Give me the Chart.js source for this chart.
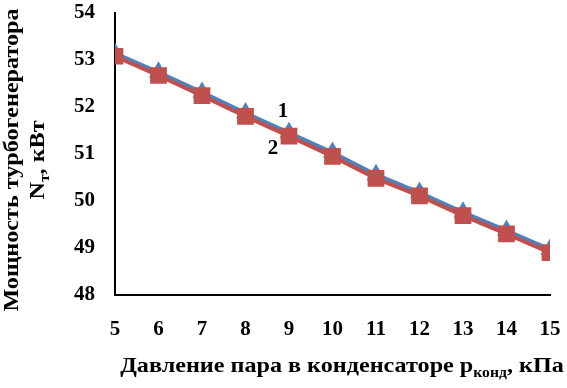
<!DOCTYPE html>
<html>
<head>
<meta charset="utf-8">
<script src="https://cdn.jsdelivr.net/npm/chart.js@4"></script>
<style>
  html, body { margin: 0; padding: 0; background: #fff; }
  #wrap { width: 567px; height: 388px; position: relative; }
</style>
</head>
<body>
<div id="wrap"><canvas id="chart"></canvas></div>
<script>
/**
 * data
 */
var pressure = [5, 6, 7, 8, 9, 10, 11, 12, 13, 14, 15];
var power1 = [53.14, 52.74, 52.31, 51.87, 51.45, 51.03, 50.56, 50.18, 49.76, 49.37, 48.97];
var power2 = [53.08, 52.67, 52.24, 51.80, 51.38, 50.95, 50.48, 50.11, 49.69, 49.30, 48.90];
var yTicks = [48, 49, 50, 51, 52, 53, 54];

var FONT = "'Liberation Serif', 'Times New Roman', serif";
var STRETCH = 1.15;

function points(xs, ys) {
  var out = [];
  for (var i = 0; i < xs.length; i++) out.push({ x: xs[i], y: ys[i] });
  return out;
}

/**
 * draw text with a subscript part, centred on x, slightly stretched
 */
function subText(ctx, parts, x, y, size) {
  var total = 0;
  parts.forEach(function (p) {
    ctx.font = "bold " + (p.sub ? size * 0.65 : size) + "px " + FONT;
    p.w = ctx.measureText(p.t).width;
    total += p.w;
  });
  ctx.save();
  ctx.translate(x, y);
  ctx.scale(STRETCH, 1);
  var cx = -total / 2;
  parts.forEach(function (p) {
    ctx.font = "bold " + (p.sub ? size * 0.65 : size) + "px " + FONT;
    ctx.fillText(p.t, cx, p.sub ? size * 0.3 : 0);
    cx += p.w;
  });
  ctx.restore();
}

var titles = {
  id: 'titles',
  afterDraw: function (chart) {
    var ctx = chart.ctx;
    var xs = chart.scales.x, ys = chart.scales.y;
    ctx.save();
    ctx.fillStyle = '#000';
    ctx.textBaseline = 'middle';
    ctx.textAlign = 'left';

    // x axis title
    subText(ctx, [
      { t: 'Давление пара в конденсаторе p' },
      { t: 'конд', sub: true },
      { t: ', кПа' }
    ], 342, 367, 21);

    // y axis title, two lines rotated
    ctx.translate(0, 160);
    ctx.rotate(-Math.PI / 2);
    subText(ctx, [{ t: 'Мощность турбогенератора' }], 0, 13, 21);
    subText(ctx, [{ t: 'N' }, { t: 'т', sub: true }, { t: ', кВт' }], 0, 39, 21);
    ctx.setTransform(1, 0, 0, 1, 0, 0);

    // curve labels
    ctx.font = "bold 21px " + FONT;
    ctx.textAlign = 'center';
    ctx.fillText('1', xs.getPixelForValue(9.0) - 6, ys.getPixelForValue(51.91));
    ctx.fillText('2', xs.getPixelForValue(9.0) - 16, ys.getPixelForValue(51.11));
    ctx.restore();
  }
};

new Chart(document.getElementById('chart'), {
  type: 'line',
  data: {
    datasets: [
      {
        label: '1',
        data: points(pressure, power1),
        borderColor: '#4F81BD',
        backgroundColor: '#4F81BD',
        borderWidth: 4,
        pointStyle: 'triangle',
        pointRadius: 7,
        order: 2
      },
      {
        label: '2',
        data: points(pressure, power2),
        borderColor: '#C0504D',
        backgroundColor: '#C0504D',
        borderWidth: 4,
        pointStyle: 'rect',
        pointRadius: 9,
        order: 1
      }
    ]
  },
  options: {
    responsive: true,
    maintainAspectRatio: false,
    animation: false,
    layout: { padding: { left: 0, right: 17, top: 11, bottom: 0 } },
    plugins: { legend: { display: false }, tooltip: { enabled: false } },
    scales: {
      x: {
        type: 'linear',
        min: 5, max: 15,
        afterFit: function (s) {
          s.height = 93;
          s.paddingLeft = 0;
          s.paddingRight = 0;
        },
        ticks: { stepSize: 1, color: '#000', padding: 16, font: { family: FONT, size: 21, weight: 'bold' } },
        grid: { display: false, drawTicks: true, tickLength: 6, tickColor: '#000' },
        border: { color: '#000', width: 2 }
      },
      y: {
        min: 48, max: 54,
        afterFit: function (s) {
          s.width = 115;
          s.paddingTop = 0;
          s.paddingBottom = 0;
        },
        afterBuildTicks: function (s) { s.ticks = yTicks.map(function (v) { return { value: v }; }); },
        ticks: { color: '#000', padding: 14, font: { family: FONT, size: 21, weight: 'bold' } },
        grid: { display: false, drawTicks: true, tickLength: 6, tickColor: '#000' },
        border: { color: '#000', width: 2 }
      }
    }
  },
  plugins: [titles]
});
</script>
</body>
</html>
